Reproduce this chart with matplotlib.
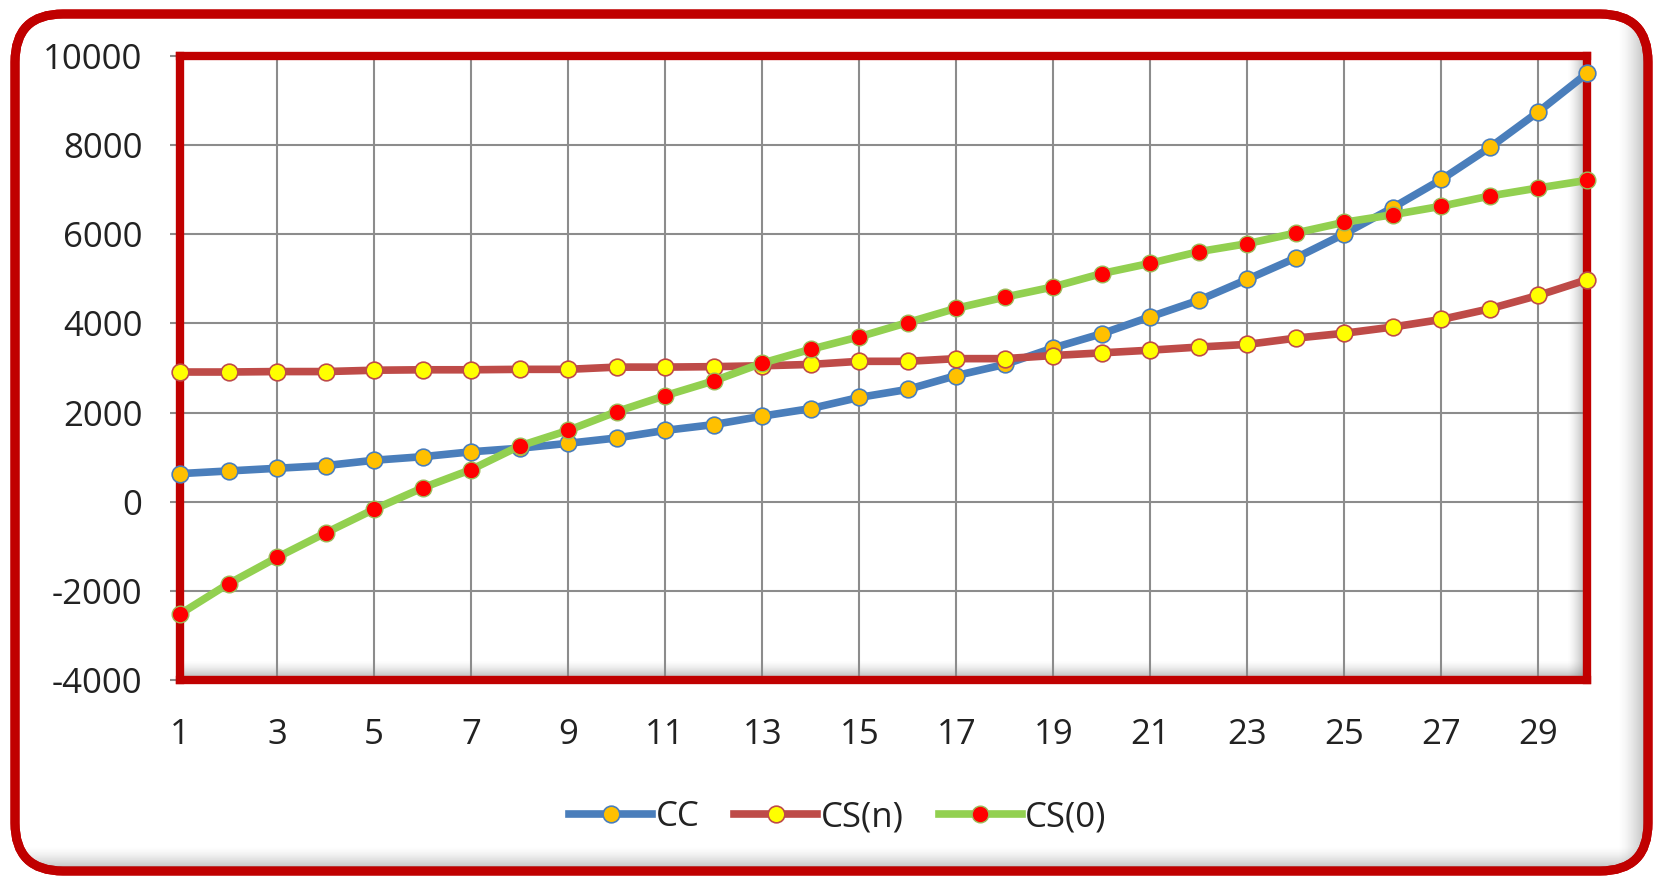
import numpy as np
import matplotlib
matplotlib.use("Agg")
import matplotlib.pyplot as plt
from matplotlib.patches import FancyBboxPatch

plt.rcParams['font.family'] = ['Open Sans', 'DejaVu Sans']
plt.rcParams['axes.unicode_minus'] = False

# series values, one point per period
periods = list(range(1, 31))
cc = [630, 690, 750, 810, 930, 1010, 1120, 1200, 1310, 1430,
      1600, 1730, 1920, 2090, 2340, 2520, 2830, 3080, 3450, 3770,
      4150, 4520, 4990, 5470, 6010, 6600, 7230, 7950, 8750, 9610]
cs_n = [2910, 2910, 2920, 2920, 2950, 2960, 2960, 2970, 2970, 3020,
        3020, 3030, 3050, 3080, 3150, 3150, 3210, 3210, 3280, 3340,
        3400, 3470, 3530, 3670, 3780, 3920, 4090, 4330, 4630, 4980]
cs_0 = [-2520, -1840, -1250, -700, -170, 310, 720, 1250, 1600, 2020,
        2380, 2710, 3110, 3420, 3700, 4020, 4340, 4590, 4820, 5120,
        5350, 5610, 5790, 6030, 6270, 6440, 6630, 6860, 7040, 7210]
labels = ['CC', 'CS(n)', 'CS(0)']
xticks = list(range(1, 30, 2))
yticks = list(range(-4000, 10001, 2000))

W, H = 1659, 880
fig = plt.figure(figsize=(W / 100, H / 100), dpi=100)

# background layer in pixel units: rounded red frame and soft inner shadows
bg = fig.add_axes([0, 0, 1, 1], zorder=0)
bg.set_xlim(0, W)
bg.set_ylim(0, H)
bg.axis('off')
frame = FancyBboxPatch((15, 9), 1633, 857, boxstyle="round,pad=0,rounding_size=48",
                       lw=6.5, ec='#C00000', fc='white', zorder=1)
bg.add_patch(frame)
frame_edge = FancyBboxPatch((15, 9), 1633, 857, boxstyle="round,pad=0,rounding_size=48",
                            lw=6.5, ec='#C00000', fc='none', zorder=3)
bg.add_patch(frame_edge)


def shade(x0, x1, y0, y1, horizontal, dark_at_end, strength=0.45, clip=None):
    n = 64
    a = np.linspace(0, strength, n) ** 1.5 / strength ** 0.5
    if not dark_at_end:
        a = a[::-1]
    img = np.zeros((1, n, 4)) if horizontal else np.zeros((n, 1, 4))
    img[..., :3] = 0.42
    if horizontal:
        img[0, :, 3] = a
    else:
        img[:, 0, 3] = a
    im = bg.imshow(img, extent=(x0, x1, y0, y1), origin='lower', aspect='auto',
                   interpolation='bilinear', zorder=2)
    if clip is not None:
        im.set_clip_path(clip)


# frame shadow (right and bottom), clipped to the rounded box
shade(1618, 1648, 9, 866, True, True, 0.5, clip=frame)
shade(15, 1648, 9, 34, False, False, 0.5, clip=frame)

# plot area geometry (pixels from bottom-left)
L, R, B, T = 180, 1587, 200, 824
shade(R - 20, R, B, T, True, True, 0.55)
shade(L, R, B, B + 20, False, False, 0.55)
bg.set_xlim(0, W)
bg.set_ylim(0, H)

ax = fig.add_axes([L / W, B / H, (R - L) / W, (T - B) / H], zorder=1)
ax.patch.set_alpha(0)

ax.plot(periods, cc, color='#4A7EBB', lw=5.5, marker='o', ms=12,
        mfc='#FFC000', mec='#4A7EBB', mew=1.2, clip_on=False, zorder=4, label=labels[0])
ax.plot(periods, cs_n, color='#BE4B48', lw=5.5, marker='o', ms=12,
        mfc='#FFFF00', mec='#BE4B48', mew=1.2, clip_on=False, zorder=4, label=labels[1])
ax.plot(periods, cs_0, color='#92D050', lw=5.5, marker='o', ms=12,
        mfc='#FF0000', mec='#9BBB59', mew=1.0, clip_on=False, zorder=4, label=labels[2])

ax.set_xlim(1, 30)
ax.set_ylim(-4000, 10000)
ax.set_xticks(xticks)
ax.set_yticks(yticks)
ax.grid(True, color='#8C8C8C', lw=1.5)
ax.set_axisbelow(True)

for s in ax.spines.values():
    s.set_color('#C00000')
    s.set_linewidth(6)

ax.tick_params(axis='x', length=0, pad=27, labelsize=25, labelcolor='#222222')
ax.tick_params(axis='y', length=7, width=1.5, color='#8C8C8C', pad=20,
               labelsize=25, labelcolor='#222222')

fig.legend(loc='center', bbox_to_anchor=(0.505, 63 / H), ncol=3, frameon=False,
           fontsize=25, handlelength=2.4, handletextpad=0.1, columnspacing=1.0,
           labelcolor='#222222')

fig.savefig('out.png', dpi=100)
